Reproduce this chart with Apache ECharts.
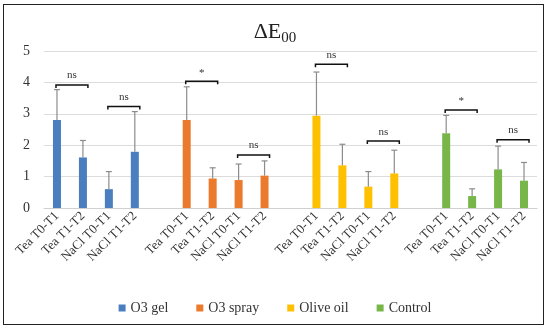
<!DOCTYPE html>
<html>
<head>
<meta charset="utf-8">
<script src="https://cdn.jsdelivr.net/npm/echarts@6/dist/echarts.min.js"></script>
<style>
html,body{margin:0;padding:0;background:#fff;}
#frame{position:absolute;left:3px;top:4px;width:539px;height:319px;border:1.5px solid #222;}
#chart{position:absolute;left:0;top:0;width:550px;height:330px;}
</style>
</head>
<body>
<div id="frame"></div>
<div id="chart"></div>
<script>
// categories (blank slots separate the groups)
const categories = ['Tea T0-T1','Tea T1-T2','NaCl T0-T1','NaCl T1-T2','',
  'Tea T0-T1','Tea T1-T2','NaCl T0-T1','NaCl T1-T2','',
  'Tea T0-T1','Tea T1-T2','NaCl T0-T1','NaCl T1-T2','',
  'Tea T0-T1','Tea T1-T2','NaCl T0-T1','NaCl T1-T2'];
const seriesNames = ['O3 gel','O3 spray','Olive oil','Control'];
const o3gel    = [2.80, 1.61, 0.60, 1.79];
const o3spray  = [2.80, 0.94, 0.89, 1.03];
const oliveOil = [2.94, 1.36, 0.68, 1.10];
const control  = [2.38, 0.38, 1.23, 0.87];
// upper end of error bars
const o3gelErr    = [3.77, 2.15, 1.16, 3.07];
const o3sprayErr  = [3.86, 1.28, 1.40, 1.50];
const oliveOilErr = [4.33, 2.03, 1.16, 1.84];
const controlErr  = [2.95, 0.61, 1.97, 1.45];
// significance brackets: [start category, end category, height, label]
const brackets = [
  [0, 1, 3.92, 'ns'], [2, 3, 3.23, 'ns'],
  [5, 6, 4.04, '*'],  [7, 8, 1.69, 'ns'],
  [10, 11, 4.58, 'ns'], [12, 13, 2.13, 'ns'],
  [15, 16, 3.12, '*'], [17, 18, 2.17, 'ns']
];
const yTicks = [0, 1, 2, 3, 4, 5];

const colors = ['#4a7ebf', '#ec7a2c', '#ffc000', '#78b64a'];
const values = [o3gel, o3spray, oliveOil, control];
const errs = [o3gelErr, o3sprayErr, oliveOilErr, controlErr];
const serif = '"Liberation Serif", "DejaVu Serif", serif';

const series = [];
const errData = [];
values.forEach((vals, g) => {
  const data = categories.map(() => null);
  vals.forEach((v, i) => {
    const idx = g * 5 + i;
    data[idx] = v;
    errData.push([idx, v, errs[g][i]]);
  });
  series.push({
    name: seriesNames[g], type: 'bar', data: data, barWidth: 8, barGap: '-100%',
    itemStyle: { color: colors[g] }, z: 2
  });
});

series.push({
  type: 'custom', name: 'err', data: errData, z: 3, silent: true,
  renderItem: function (params, api) {
    const p0 = api.coord([api.value(0), api.value(1)]);
    const p1 = api.coord([api.value(0), api.value(2)]);
    return { type: 'group', children: [
      { type: 'line', shape: { x1: p0[0], y1: p0[1], x2: p1[0], y2: p1[1] }, style: { stroke: '#8c8c8c', lineWidth: 1.2 } },
      { type: 'line', shape: { x1: p1[0] - 3, y1: p1[1], x2: p1[0] + 3, y2: p1[1] }, style: { stroke: '#8c8c8c', lineWidth: 1.2 } }
    ]};
  }
});

series.push({
  type: 'custom', name: 'sig', data: brackets, z: 4, silent: true,
  renderItem: function (params, api) {
    const a = api.coord([api.value(0), api.value(2)]);
    const b = api.coord([api.value(1), api.value(2)]);
    const x1 = a[0] - 1, x2 = b[0] + 5, y = a[1];
    const label = brackets[params.dataIndex][3];
    return { type: 'group', children: [
      { type: 'polyline', shape: { points: [[x1, y + 3], [x1, y], [x2, y], [x2, y + 3]] }, style: { stroke: '#111', lineWidth: 1.5, fill: null } },
      { type: 'text', style: { text: label, x: (x1 + x2) / 2, y: label === '*' ? y - 3 : y - 4, textAlign: 'center', textVerticalAlign: 'bottom', font: '11px ' + serif, fill: '#333' } }
    ]};
  }
});

const chart = echarts.init(document.getElementById('chart'), null, { renderer: 'canvas' });
chart.setOption({
  animation: false,
  title: {
    text: '{a|ΔE}{b|00}', left: 'center', top: 16,
    textStyle: { fontWeight: 'normal', rich: {
      a: { fontFamily: serif, fontSize: 22, fontWeight: 'normal', color: '#222', verticalAlign: 'bottom' },
      b: { fontFamily: serif, fontSize: 15, fontWeight: 'normal', color: '#222', verticalAlign: 'bottom', padding: [0, 0, -3, 0] }
    } }
  },
  legend: {
    data: seriesNames, bottom: 10, left: 'center', itemWidth: 7, itemHeight: 7, itemGap: 28,
    icon: 'rect', textStyle: { fontFamily: serif, fontSize: 14, color: '#333' }
  },
  grid: { left: 44, right: 13, top: 51, bottom: 122 },
  xAxis: {
    type: 'category', data: categories,
    axisLine: { lineStyle: { color: '#d0d0d0' } }, axisTick: { show: false },
    axisLabel: { interval: 0, rotate: 45, fontFamily: serif, fontSize: 13, color: '#333', margin: 6 }
  },
  yAxis: {
    type: 'value', min: yTicks[0], max: yTicks[yTicks.length - 1], interval: 1,
    axisLine: { show: false }, axisTick: { show: false },
    splitLine: { lineStyle: { color: '#dcdcdc' } },
    axisLabel: { fontFamily: serif, fontSize: 14, color: '#333', margin: 14 }
  },
  series: series
});
</script>
</body>
</html>
